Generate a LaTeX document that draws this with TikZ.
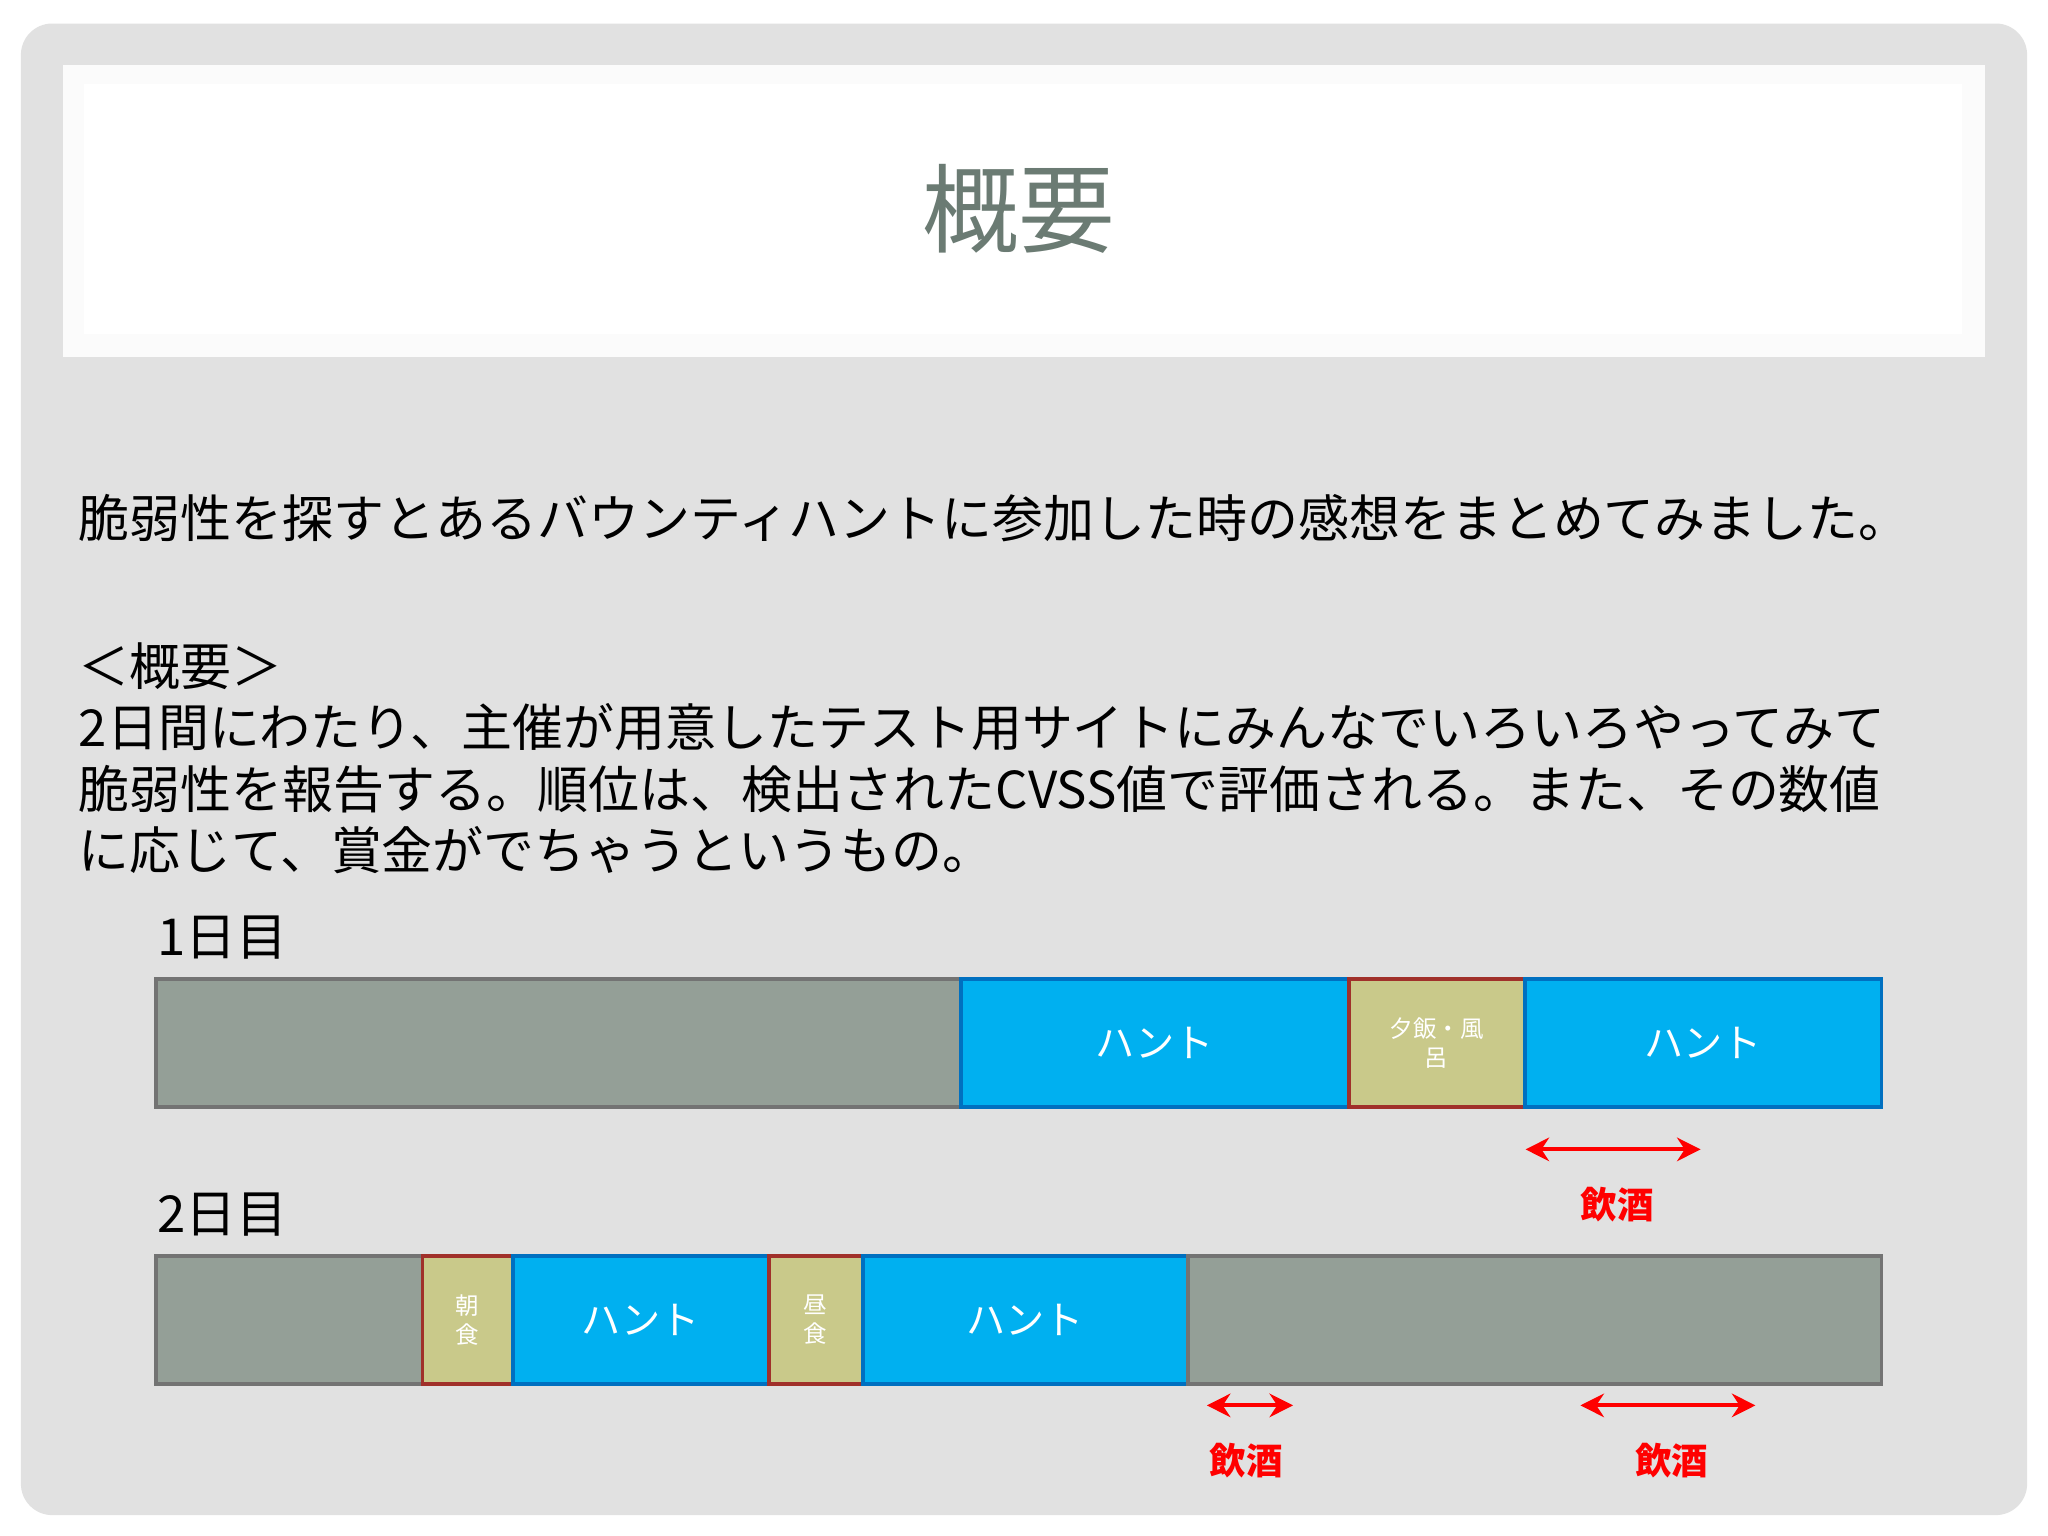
\documentclass[tikz,border=0pt]{standalone}
\usepackage{fontspec}
\setmainfont{Noto Sans CJK JP}
\usetikzlibrary{arrows.meta}
\definecolor{bg}{HTML}{E1E1E1}
\definecolor{segg}{HTML}{949F97}
\definecolor{segb}{HTML}{00B0F0}
\definecolor{segbd}{HTML}{0070C0}
\definecolor{segk}{HTML}{C9C98A}
\definecolor{segkd}{HTML}{A0302A}
\definecolor{titlec}{HTML}{6B7B73}
\tikzset{
 seg/.style={draw, line width=1.5pt, minimum height=49pt, inner sep=0pt, anchor=north west, text=white},
 gseg/.style={seg, fill=segg, draw=gray!90!black},
 bseg/.style={seg, fill=segb, draw=segbd, font=\fontsize{15}{15}\selectfont},
 kseg/.style={seg, fill=segk, draw=segkd, font=\fontsize{9}{11}\selectfont, align=center},
 body/.style={anchor=west, inner sep=0pt, font=\fontsize{19.5}{22}\selectfont, text=black},
 drink/.style={text=red, font=\fontsize{14}{14}\selectfont\bfseries},
 darr/.style={red, line width=1.5pt, {Stealth[length=9pt,width=9pt]}-{Stealth[length=9pt,width=9pt]}}
}
\begin{document}
\begin{tikzpicture}[x=0.5pt,y=-0.5pt]
\useasboundingbox (0,0) rectangle (1568,1176);
\fill[white] (0,0) rectangle (1568,1176);
\fill[bg, rounded corners=12pt] (16,18) rectangle (1552,1160);
\fill[white!97!gray] (48,50) rectangle (1520,273);
\fill[white] (64,64) rectangle (1502,256);
\node[text=titlec, font=\fontsize{37}{40}\selectfont] (title) at (780,160) {概要};
\node[body] (l1) at (60,397) {脆弱性を探すとあるバウンティハントに参加した時の感想をまとめてみました。};
\node[body] (l2) at (60,510) {＜概要＞};
\node[body] (l3) at (60,557) {2日間にわたり、主催が用意したテスト用サイトにみんなでいろいろやってみて};
\node[body] (l4) at (60,604) {脆弱性を報告する。順位は、検出されたCVSS値で評価される。また、その数値};
\node[body] (l5) at (60,651) {に応じて、賞金がでちゃうというもの。};
\node[body] (d1) at (120,718) {1日目};
\node[body] (d2) at (120,930) {2日目};
% day 1
\node[gseg, minimum width=308pt] (a1) at (118,748) {};
\node[bseg, minimum width=148.5pt] (a2) at (734,748) {ハント};
\node[kseg, minimum width=67.5pt] (a3) at (1031,748) {夕飯・風\\呂};
\node[bseg, minimum width=136.5pt] (a4) at (1166,748) {ハント};
\coordinate (p1) at (1168,880); \coordinate (q1) at (1302,880);
\draw[darr] (p1) -- (q1);
\node[drink] (t1) at (1238,922) {飲酒};
% day 2
\node[gseg, minimum width=102pt] (b1) at (118,960) {};
\node[kseg, minimum width=34.5pt] (b2) at (322,960) {朝\\食};
\node[bseg, minimum width=98pt] (b3) at (391,960) {ハント};
\node[kseg, minimum width=36pt] (b4) at (587,960) {昼\\食};
\node[bseg, minimum width=124.5pt] (b5) at (659,960) {ハント};
\node[gseg, minimum width=265.5pt] (b6) at (908,960) {};
\coordinate (p2) at (924,1076); \coordinate (q2) at (990,1076);
\draw[darr] (p2) -- (q2);
\node[drink] (t2) at (954,1118) {飲酒};
\coordinate (p3) at (1210,1076); \coordinate (q3) at (1344,1076);
\draw[darr] (p3) -- (q3);
\node[drink] (t3) at (1280,1118) {飲酒};
\end{tikzpicture}
\end{document}
